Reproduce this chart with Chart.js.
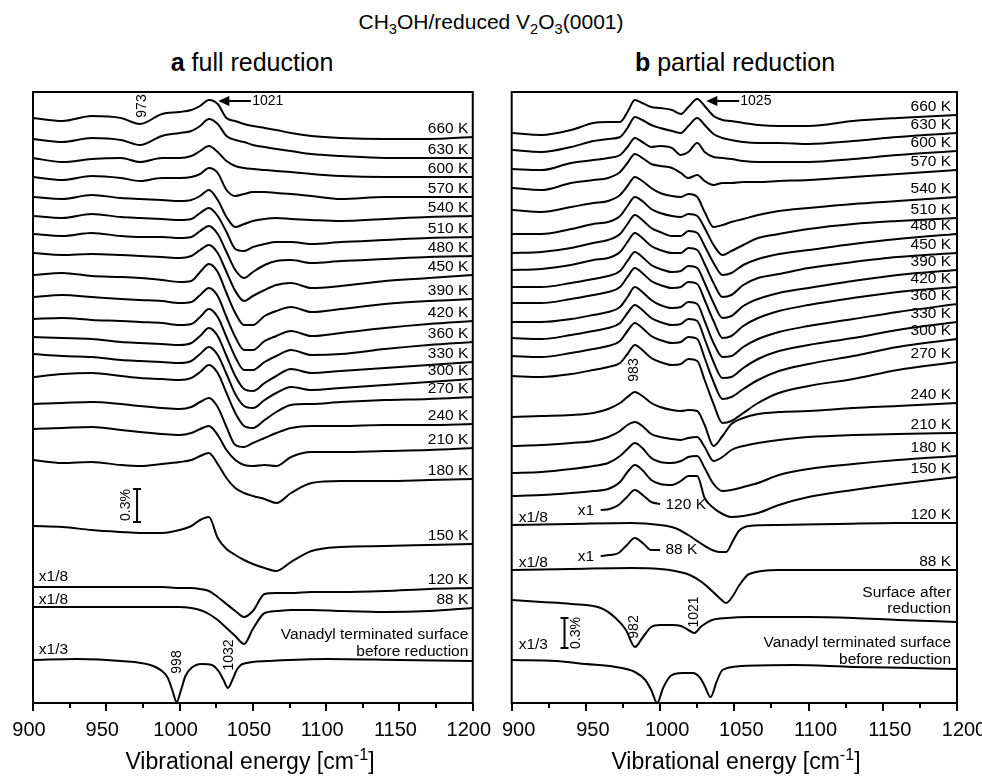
<!DOCTYPE html>
<html>
<head>
<meta charset="utf-8">
<script src="https://cdn.jsdelivr.net/npm/chart.js@4.4.1/dist/chart.umd.min.js"></script>
<style>
  body { margin: 0; width: 982px; height: 777px; overflow: hidden; background: #fff; position: relative;
         font-family: "Liberation Sans", Arial, Helvetica, sans-serif; color: #000; }
  .txt { position: absolute; white-space: nowrap; text-align: center; }
  #title { left: 0; width: 982px; top: 10px; font-size: 21px; line-height: 24px; }
  .sub { top: 48px; font-size: 25px; line-height: 29px; width: 400px; }
  .xt { top: 748px; font-size: 23px; line-height: 27px; width: 400px; }
  sub, sup { font-size: 70%; line-height: 0; }
  canvas { position: absolute; top: 80px; }
</style>
</head>
<body>
<div id="title" class="txt">CH<sub>3</sub>OH/reduced V<sub>2</sub>O<sub>3</sub>(0001)</div>
<div class="txt sub" style="left:52px"><b>a</b> full reduction</div>
<div class="txt sub" style="left:535px"><b>b</b> partial reduction</div>
<canvas id="chA" width="510" height="697" style="left:0px"></canvas>
<canvas id="chB" width="520" height="697" style="left:480px"></canvas>
<div class="txt xt" style="left:50px">Vibrational energy [cm<sup>-1</sup>]</div>
<div class="txt xt" style="left:536px">Vibrational energy [cm<sup>-1</sup>]</div>
<script>
/* ---------- panel a: full reduction ---------- */
// wavenumber grid shared by the temperature traces (cm-1)
const xA = [900, 920, 940, 960, 973, 988, 1000, 1008, 1014, 1020, 1026, 1032, 1038, 1044, 1050, 1058, 1066, 1076, 1090, 1110, 1140, 1170, 1200];
const tempsA = ['660 K', '630 K', '600 K', '570 K', '540 K', '510 K', '480 K', '450 K', '390 K', '420 K',
                '360 K', '330 K', '300 K', '270 K', '240 K', '210 K', '180 K', '150 K', '120 K', '88 K'];
// stacking offset of each trace
const baseA = [585, 564, 545, 526, 506, 487, 469, 450, 428, 406, 384, 366, 349, 326, 299, 274, 243, 177, 116, 96];

const a660 = [0, -3, 2, 0, -6, 4, 6, 8, 12, 18, 14, 0, -3, -6, -8, -10, -12, -15, -18, -20, -21, -21, -19];
const a630 = [0, -3, 1, -1, -6, 3, 6, 8, 13, 20, 15, 3, -1, -3, -6, -8, -10, -12, -15, -17, -19, -19, -19];
const a600 = [0, -4, -1, 0, -4, 0, 0, 2, 7, 12, 6, -3, -8, -10, -11, -12, -13, -14, -16, -18, -19, -19, -19];
const a570 = [0, -3, 1, -1, -4, -1, -1, 0, 3, 9, 4, -13, -19, -17, -15, -15, -16, -17, -19, -22, -20, -20, -20];
const a540 = [0, -2, 2, -1, -2, -3, -4, -3, 1, 7, -3, -20, -30, -27, -24, -22, -21, -22, -23, -24, -22, -20, -19];
const a510 = [0, -2, 2, -1, -2, -3, -4, -3, 3, 8, 0, -16, -33, -35, -31, -28, -26, -26, -28, -26, -24, -22, -21];
const a480 = [0, -2, 1, -2, -3, -3, -4, -3, 3, 8, 0, -18, -36, -44, -38, -31, -27, -26, -29, -27, -25, -23, -22];
const a450 = [0, -2, -1, -2, -3, -4, -5, -3, 3, 8, 0, -19, -38, -48, -43, -37, -32, -30, -35, -33, -28, -25, -22];
const a390 = [0, 2, -1, -2, -3, -5, -7, -6, 3, 11, 3, -18, -38, -50, -50, -41, -36, -32, -37, -34, -29, -26, -24];
const a420 = [0, 2, 0, -2, -3, -4, -6, -5, 2, 9, 1, -20, -40, -53, -53, -44, -39, -34, -39, -36, -31, -27, -24];
const a360 = [0, 1, -1, -2, -3, -4, -6, -5, 2, 10, 2, -18, -38, -51, -51, -43, -37, -31, -36, -35, -30, -26, -23];
const a330 = [0, -1, -2, -5, -6, -7, -8, -6, 1, 9, 1, -19, -39, -52, -54, -46, -39, -32, -36, -34, -31, -28, -25];
const a300 = [0, -2, -3, -6, -7, -8, -9, -7, 0, 7, -1, -20, -40, -52, -54, -46, -39, -33, -36, -34, -31, -28, -25];
const a270 = [0, 3, 4, 1, -1, -2, -3, -1, 5, 12, 4, -16, -36, -49, -51, -43, -35, -28, -27, -25, -23, -22, -20];
const a240 = [0, 1, 2, 0, -2, -4, -5, -3, 2, 6, -3, -23, -41, -43, -39, -34, -29, -24, -22, -22, -21, -21, -20];
const a210 = [0, 1, 2, -1, -3, -5, -6, -4, 0, 3, -6, -21, -31, -36, -37, -36, -37, -28, -23, -23, -22, -21, -19];
const a180 = [0, -3, -2, -5, -6, -4, -2, 0, 4, 7, -4, -18, -28, -33, -36, -39, -43, -33, -23, -21, -21, -20, -19];
const a150 = [0, -1, -4, -6, -7, -7, -4, 0, 6, 9, -12, -23, -29, -34, -38, -42, -45, -36, -25, -21, -20, -19, -18];
const a120 = [0, 0, 0, 0, 0, 0, -1, -1, -2, -4, -10, -17, -24, -30, -24, -7, -6, -6, -5, -5, -4, -2, -1];
const a88  = [0, 0, 0, 0, 0, 0, 0, -1, -3, -7, -13, -21, -29, -37, -22, -6, -4, -3, -3, -4, -5, -4, -1];
const relA = [a660, a630, a600, a570, a540, a510, a480, a450, a390, a420,
              a360, a330, a300, a270, a240, a210, a180, a150, a120, a88];

// vanadyl terminated surface before reduction (x1/3)
const xVanA = [900, 930, 960, 980, 988, 992, 995, 998, 1001, 1004, 1008, 1015, 1022, 1027, 1030, 1033, 1036, 1039, 1043, 1060, 1100, 1150, 1200];
const vanA = [0, 1, -1, -5, -11, -18, -30, -42, -30, -16, -8, -4, -5, -12, -20, -28, -20, -10, -4, -1, 1, 0, -1];
const baseVanA = 43;

/* ---------- panel b: partial reduction ---------- */
const xB = [900, 920, 940, 955, 965, 973, 978, 983, 988, 994, 1000, 1008, 1014, 1019, 1025, 1030, 1036, 1042, 1048, 1056, 1066, 1080, 1100, 1130, 1160, 1200];
const tempsB = ['660 K', '630 K', '600 K', '570 K', '540 K', '510 K', '480 K', '450 K', '390 K', '420 K',
                '360 K', '330 K', '300 K', '270 K', '240 K', '210 K', '180 K', '150 K'];
const baseB = [570, 553, 534, 515, 493, 469, 450, 433, 416, 400, 381, 365, 347, 327, 286, 257, 230, 207];

const b660 = [0, -2, 3, 10, 11, 11, 21, 33, 30, 26, 25, 23, 19, 26, 34, 27, 17, 13, 12, 10, 8, 7, 7, 12, 15, 18];
const b630 = [0, -2, 3, 9, 11, 13, 22, 33, 30, 25, 22, 19, 17, 24, 32, 25, 16, 12, 10, 8, 7, 7, 6, 9, 13, 17];
const b600 = [0, -1, 6, 9, 11, 14, 22, 31, 27, 22, 23, 21, 14, 17, 26, 17, 12, 11, 10, 8, 7, 7, 7, 10, 14, 18];
const b570 = [0, -2, 5, 8, 10, 16, 25, 34, 30, 24, 22, 20, 15, 10, 13, 7, 3, 5, 5, 6, 6, 7, 8, 11, 14, 18];
const b540 = [0, -2, 3, 7, 9, 15, 24, 33, 29, 22, 17, 14, 13, 16, 13, -2, -17, -15, -12, -9, -5, -1, 2, 6, 9, 13];
const b510 = [0, 0, 5, 10, 12, 18, 28, 37, 33, 25, 21, 18, 17, 20, 18, 6, -11, -21, -17, -11, -4, 0, 5, 10, 13, 16];
const b480 = [0, 1, 5, 10, 13, 19, 29, 38, 33, 25, 21, 17, 17, 22, 20, 7, -10, -22, -20, -12, -6, -1, 3, 9, 14, 19];
const b450 = [0, 1, 5, 10, 12, 18, 28, 37, 32, 24, 20, 17, 17, 22, 20, 6, -13, -27, -25, -15, -8, -4, 2, 8, 13, 17];
const b390 = [0, 0, 4, 8, 11, 16, 26, 35, 30, 22, 18, 15, 16, 21, 19, 4, -16, -31, -29, -19, -12, -6, -1, 6, 12, 17];
const b420 = [0, 0, 4, 8, 11, 16, 26, 35, 30, 22, 18, 15, 16, 21, 19, 3, -18, -35, -33, -23, -15, -8, -2, 5, 11, 16];
const b360 = [0, 0, 3, 7, 10, 15, 25, 35, 30, 22, 17, 14, 15, 20, 18, 1, -21, -35, -34, -25, -17, -10, -4, 3, 10, 18];
const b330 = [0, -1, 3, 7, 10, 15, 25, 33, 28, 20, 16, 13, 14, 19, 17, -1, -24, -40, -39, -30, -21, -13, -7, 0, 8, 16];
const b300 = [0, -1, 3, 7, 10, 15, 25, 33, 28, 20, 16, 13, 14, 19, 17, -2, -26, -43, -41, -33, -24, -15, -8, 0, 9, 17];
const b270 = [0, -1, 2, 6, 9, 13, 22, 31, 26, 18, 14, 11, 12, 17, 15, -4, -28, -47, -45, -37, -27, -17, -10, -3, 6, 14];
const b240 = [0, 1, 2, 4, 8, 14, 20, 25, 21, 14, 10, 7, 6, 7, 6, -8, -29, -19, -7, -1, 3, 5, 6, 9, 11, 14];
const b210 = [0, 1, 3, 5, 9, 15, 21, 24, 20, 12, 9, 7, 6, 8, 9, -1, -15, -11, -4, 0, 3, 6, 9, 11, 12, 13];
const b180 = [0, 1, 4, 7, 10, 17, 24, 30, 25, 15, 11, 10, 12, 16, 17, 5, -11, -18, -17, -14, -10, -2, 4, 9, 13, 17];
const b150 = [0, 1, 3, 5, 7, 14, 24, 31, 26, 16, 12, 11, 15, 20, 20, -2, -12, -18, -21, -20, -17, -9, -1, 6, 12, 19];
const relB = [b660, b630, b600, b570, b540, b510, b480, b450, b390, b420,
              b360, b330, b300, b270, b240, b210, b180, b150];

// 120 K and 88 K at x1/8
const xLowB = [900, 940, 980, 1000, 1010, 1020, 1028, 1035, 1040, 1044.5, 1049, 1053, 1060, 1080, 1120, 1160, 1200];
const b120 = [0, 1, 2, 0, -3, -11, -19, -25, -27, -27, -16, -6, -1, 0, 1, 2, 2];
const b88  = [0, 1, 2, 1, -1, -5, -12, -21, -28, -33, -26, -16, -4, 0, 0, 0, 0];
const baseLowB = [178, 133];

// the x1 insets of the 983 band
const xInset = [960, 966, 972, 977, 983, 989, 994, 1000];
const in120 = [0, 1, 5, 12, 20, 14, 8, 6];
const in88  = [0, 1, 3, 10, 18, 12, 6, 6];
const baseInset = [193, 147];

// surface after reduction
const xSurf = [900, 920, 940, 960, 970, 977, 983, 988, 994, 1000, 1008, 1014, 1019, 1023, 1028, 1035, 1045, 1060, 1080, 1100, 1130, 1160, 1200];
const surf = [0, -2, -4, -8, -18, -30, -47, -38, -27, -25, -25, -26, -30, -33, -26, -20, -18, -17, -17, -17, -18, -20, -22];
const baseSurf = 103;

// vanadyl terminated surface before reduction (x1/3)
const xVanB = [900, 930, 950, 970, 983, 990, 994, 998, 1002, 1007, 1015, 1022, 1027, 1030, 1034, 1038, 1042, 1055, 1090, 1130, 1170, 1200];
const vanB = [0, -1, -4, -7, -12, -20, -30, -43, -28, -16, -13, -13, -18, -26, -37, -22, -10, -6, -5, -7, -8, -9];
const baseVanB = 43;

/* ---------- helpers ---------- */
const FONT = '"Liberation Sans", Arial, Helvetica, sans-serif';

function points(xs, base, rel) {
  return xs.map((x, i) => ({ x: x, y: base + rel[i] }));
}

function trace(pts) {
  return {
    data: pts,
    borderColor: '#000',
    borderWidth: 2,
    pointRadius: 0,
    cubicInterpolationMode: 'monotone',
    fill: false,
    clip: false
  };
}

// frame, tick marks, labels, arrows and scale bars
function makeDecor(cfg) {
  return {
    id: 'decor',
    afterDatasetsDraw(chart) {
      const { ctx, chartArea: a, scales: { x, y } } = chart;
      ctx.save();
      ctx.strokeStyle = '#000';
      ctx.fillStyle = '#000';
      ctx.lineWidth = 2;
      ctx.strokeRect(a.left, a.top, a.right - a.left, a.bottom - a.top);
      for (let v = 900; v <= 1200; v += 25) {
        const px = Math.round(x.getPixelForValue(v));
        ctx.beginPath();
        ctx.moveTo(px, a.bottom);
        ctx.lineTo(px, a.bottom + (v % 50 === 0 ? 8 : 5));
        ctx.stroke();
      }

      ctx.textBaseline = 'middle';
      ctx.font = '15.5px ' + FONT;
      ctx.textAlign = 'right';
      cfg.ends.forEach(e => {
        ctx.fillText(e.text, x.getPixelForValue(cfg.labelX), y.getPixelForValue(e.y) - 8);
      });

      cfg.notes.forEach(n => {
        ctx.font = (n.size || 15.5) + 'px ' + FONT;
        const px = x.getPixelForValue(n.x), py = y.getPixelForValue(n.y);
        if (n.rot) {
          ctx.save();
          ctx.translate(px, py);
          ctx.rotate(-Math.PI / 2);
          ctx.textAlign = 'center';
          ctx.fillText(n.t, 0, 0);
          ctx.restore();
        } else {
          ctx.textAlign = n.align || 'left';
          ctx.fillText(n.t, px, py);
        }
      });

      cfg.arrows.forEach(r => {
        const x1 = x.getPixelForValue(r.x1), x2 = x.getPixelForValue(r.x2), py = y.getPixelForValue(r.y);
        ctx.lineWidth = 2;
        ctx.beginPath();
        ctx.moveTo(x1, py);
        ctx.lineTo(x2 + 8, py);
        ctx.stroke();
        ctx.beginPath();
        ctx.moveTo(x2, py);
        ctx.lineTo(x2 + 11, py - 5);
        ctx.lineTo(x2 + 11, py + 5);
        ctx.closePath();
        ctx.fill();
      });

      cfg.bars.forEach(b => {
        const px = x.getPixelForValue(b.x), y1 = y.getPixelForValue(b.y1), y2 = y.getPixelForValue(b.y2);
        ctx.lineWidth = 2;
        ctx.beginPath();
        ctx.moveTo(px, y1); ctx.lineTo(px, y2);
        ctx.moveTo(px - 4, y1); ctx.lineTo(px + 4, y1);
        ctx.moveTo(px - 4, y2); ctx.lineTo(px + 4, y2);
        ctx.stroke();
      });
      ctx.restore();
    }
  };
}

function makePanel(id, datasets, cfg, pad, shift) {
  new Chart(document.getElementById(id), {
    type: 'line',
    data: { datasets: datasets },
    options: {
      responsive: false,
      animation: false,
      devicePixelRatio: 1,
      layout: { padding: pad },
      plugins: { legend: { display: false }, tooltip: { enabled: false } },
      scales: {
        x: {
          type: 'linear', min: 900, max: 1200,
          grid: { display: false, drawTicks: false },
          border: { display: false },
          ticks: { stepSize: 50, autoSkip: false, maxRotation: 0, padding: 15, color: '#000',
                   labelOffset: shift,
                   font: { size: 20, family: FONT },
                   callback: v => String(v) }
        },
        y: { type: 'linear', min: 0, max: 611, display: false }
      }
    },
    plugins: [makeDecor(cfg)]
  });
}

/* ---------- panel a ---------- */
const setsA = relA.map((r, i) => trace(points(xA, baseA[i], r)));
setsA.push(trace(points(xVanA, baseVanA, vanA)));
const endsA = relA.map((r, i) => ({ text: tempsA[i], y: baseA[i] + r[r.length - 1] }));

makePanel('chA', setsA, {
  labelX: 1197,
  ends: endsA,
  notes: [
    { t: '973', x: 974.3, y: 597, rot: true, size: 14 },
    { t: '1021', x: 1049.5, y: 602, size: 14 },
    { t: '0.3%', x: 963.5, y: 198, rot: true, size: 14 },
    { t: 'x1/8', x: 904, y: 126 },
    { t: 'x1/8', x: 904, y: 103 },
    { t: 'x1/3', x: 904, y: 53 },
    { t: 'Vanadyl terminated surface', x: 1197, y: 68, align: 'right' },
    { t: 'before reduction', x: 1197, y: 51, align: 'right' },
    { t: '998', x: 998.6, y: 41, rot: true, size: 14 },
    { t: '1032', x: 1033.8, y: 48, rot: true, size: 14 }
  ],
  arrows: [{ x1: 1048.6, x2: 1026.4, y: 602 }],
  bars: [{ x: 971, y1: 181, y2: 214 }]
}, { left: 33, right: 33, top: 12, bottom: 20 }, -4);

/* ---------- panel b ---------- */
const setsB = relB.map((r, i) => trace(points(xB, baseB[i], r)));
setsB.push(trace(points(xLowB, baseLowB[0], b120)));
setsB.push(trace(points(xLowB, baseLowB[1], b88)));
setsB.push(trace(points(xInset, baseInset[0], in120)));
setsB.push(trace(points(xInset, baseInset[1], in88)));
setsB.push(trace(points(xSurf, baseSurf, surf)));
setsB.push(trace(points(xVanB, baseVanB, vanB)));
const endsB = relB.map((r, i) => ({ text: tempsB[i], y: baseB[i] + r[r.length - 1] }));
endsB.push({ text: '120 K', y: baseLowB[0] + b120[b120.length - 1] });
endsB.push({ text: '88 K', y: baseLowB[1] + b88[b88.length - 1] });

makePanel('chB', setsB, {
  labelX: 1196,
  ends: endsB,
  notes: [
    { t: '1025', x: 1054, y: 602, size: 14 },
    { t: '983', x: 982.7, y: 333, rot: true, size: 14 },
    { t: 'x1', x: 955.5, y: 192, align: 'right' },
    { t: '120 K', x: 1003.6, y: 198 },
    { t: 'x1', x: 955.5, y: 146, align: 'right' },
    { t: '88 K', x: 1003.6, y: 153 },
    { t: 'x1/8', x: 904.7, y: 185 },
    { t: 'x1/8', x: 904.7, y: 140 },
    { t: 'x1/3', x: 904.7, y: 58 },
    { t: 'Surface after', x: 1196, y: 110, align: 'right' },
    { t: 'reduction', x: 1196, y: 94, align: 'right' },
    { t: 'Vanadyl terminated surface', x: 1196, y: 60, align: 'right' },
    { t: 'before reduction', x: 1196, y: 43, align: 'right' },
    { t: '982', x: 982.7, y: 76, rot: true, size: 14 },
    { t: '1021', x: 1023, y: 91, rot: true, size: 14 },
    { t: '0.3%', x: 943.7, y: 70, rot: true, size: 14 }
  ],
  arrows: [{ x1: 1053.3, x2: 1031.1, y: 602 }],
  bars: [{ x: 935.6, y1: 55, y2: 85 }]
}, { left: 31, right: 43, top: 12, bottom: 20 }, 7);
</script>
</body>
</html>
